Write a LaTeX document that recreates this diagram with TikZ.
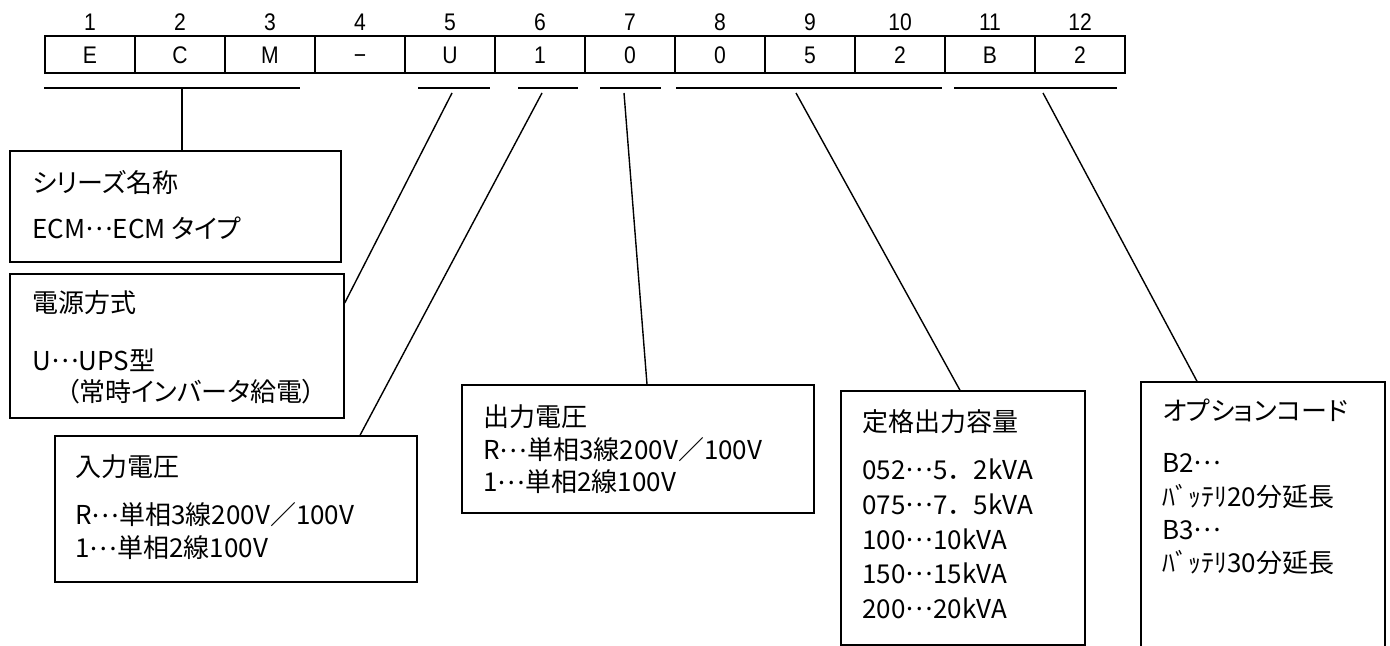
\documentclass[tikz,border=0pt]{standalone}
\usepackage{fontspec}
\setmainfont{Liberation Sans}
\newfontfamily\tabfont[FakeStretch=0.88]{Liberation Sans}
\newfontfamily\jp{Noto Sans CJK JP}
\newfontfamily\jpp[RawFeature=+palt]{Noto Sans CJK JP}
\newcommand\mdd{\raisebox{0.3em}{…}}
\usetikzlibrary{fit}
\begin{document}
\begin{tikzpicture}[x=0.5pt,y=-0.5pt,
  cell/.style={draw, line width=0.8pt, minimum width=45pt, minimum height=18.5pt, inner sep=0pt,
    text height=8.6pt, text depth=0pt, font=\tabfont\fontsize{12}{14}\selectfont},
  num/.style={inner sep=0pt, text height=8.6pt, text depth=0pt, font=\tabfont\fontsize{12}{14}\selectfont},
  box/.style={draw, line width=0.7pt, inner sep=0pt},
  txt/.style={anchor=west, inner sep=0pt, font=\jp\fontsize{13}{15}\selectfont},
  ptxt/.style={anchor=west, inner sep=0pt, font=\jpp\fontsize{13}{15}\selectfont},
  link/.style={line width=0.7pt},
  brk/.style={line width=0.7pt}]
\useasboundingbox (0,0) rectangle (1390,646);
\clip (0,0) rectangle (1390,646);

% code table
\foreach \i/\t in {1/E,2/C,3/M,4/−,5/U,6/1,7/0,8/0,9/5,10/2,11/B,12/2}{
  \node[cell] (c\i) at ({45+90*(\i-0.5)},54.5) {\t};
  \node[num] (n\i) at ({45+90*(\i-0.5)},22) {\i};
}

% brackets
\coordinate (a1) at (44,88);   \coordinate (a2) at (300,88);
\coordinate (a3) at (418,88);  \coordinate (a4) at (490,88);
\coordinate (a5) at (518,88);  \coordinate (a6) at (578,88);
\coordinate (a7) at (600,88);  \coordinate (a8) at (661,88);
\coordinate (a9) at (676,88);  \coordinate (a10) at (942,88);
\coordinate (a11) at (954,88); \coordinate (a12) at (1117,88);
\foreach \p/\q in {a1/a2,a3/a4,a5/a6,a7/a8,a9/a10,a11/a12}
  \draw[brk] (\p) -- (\q);

% boxes
\node[box, fit={(10,151) (341,262)}] (b1) {};
\node[box, fit={(10,274) (344,418)}] (b2) {};
\node[box, fit={(55,436) (417,582)}] (b3) {};
\node[box, fit={(462,385) (814,513)}] (b4) {};
\node[box, fit={(841,391) (1085,645)}] (b5) {};
\node[box, fit={(1141,382) (1385,700)}] (b6) {};

% connectors
\coordinate (k1) at (182,88);
\coordinate (k2) at (452,93);
\coordinate (k3) at (542,93);
\coordinate (k4) at (624,93);
\coordinate (k5) at (796,93);
\coordinate (k6) at (1043,93);
\draw[link] (k1) -- (k1 |- b1.north);
\draw[link] (k2) -- (b2.east |- 0,303);
\draw[link] (k3) -- (b3.north -| 360,0);
\draw[link] (k4) -- (b4.north -| 647,0);
\draw[link] (k5) -- (b5.north -| 960,0);
\draw[link] (k6) -- (b6.north -| 1197,0);

% texts
\node[ptxt] (t11) at (32,183) {シリーズ名称};
\node[ptxt] (t12) at (32,228) {ECM\mdd ECM タイプ};
\node[ptxt] (t21) at (32,303) {電源方式};
\node[ptxt] (t22) at (32,360) {U\mdd UPS型};
\node[ptxt] (t23) at (66,392) {（常時インバータ給電）};
\node[ptxt] (t31) at (75,467) {入力電圧};
\node[ptxt] (t32) at (75,515) {R\mdd 単相3線200V／100V};
\node[ptxt] (t33) at (75,548) {1\mdd 単相2線100V};
\node[ptxt] (t41) at (483,417) {出力電圧};
\node[ptxt] (t42) at (483,450) {R\mdd 単相3線200V／100V};
\node[ptxt] (t43) at (483,482) {1\mdd 単相2線100V};
\node[txt] (t51) at (862,422) {定格出力容量};
\node[txt] (t52) at (862,469) {052\mdd 5．2kVA};
\node[txt] (t53) at (862,504) {075\mdd 7．5kVA};
\node[txt] (t54) at (862,539) {100\mdd 10kVA};
\node[txt] (t55) at (862,573) {150\mdd 15kVA};
\node[txt] (t56) at (862,608) {200\mdd 20kVA};
\node[ptxt] (t61) at (1162,410) {オプションコード};
\node[txt] (t62) at (1162,463) {B2\mdd};
\node[txt] (t63) at (1162,497) {ﾊﾞｯﾃﾘ20分延長};
\node[txt] (t64) at (1162,530) {B3\mdd};
\node[txt] (t65) at (1162,563) {ﾊﾞｯﾃﾘ30分延長};
\end{tikzpicture}
\end{document}
